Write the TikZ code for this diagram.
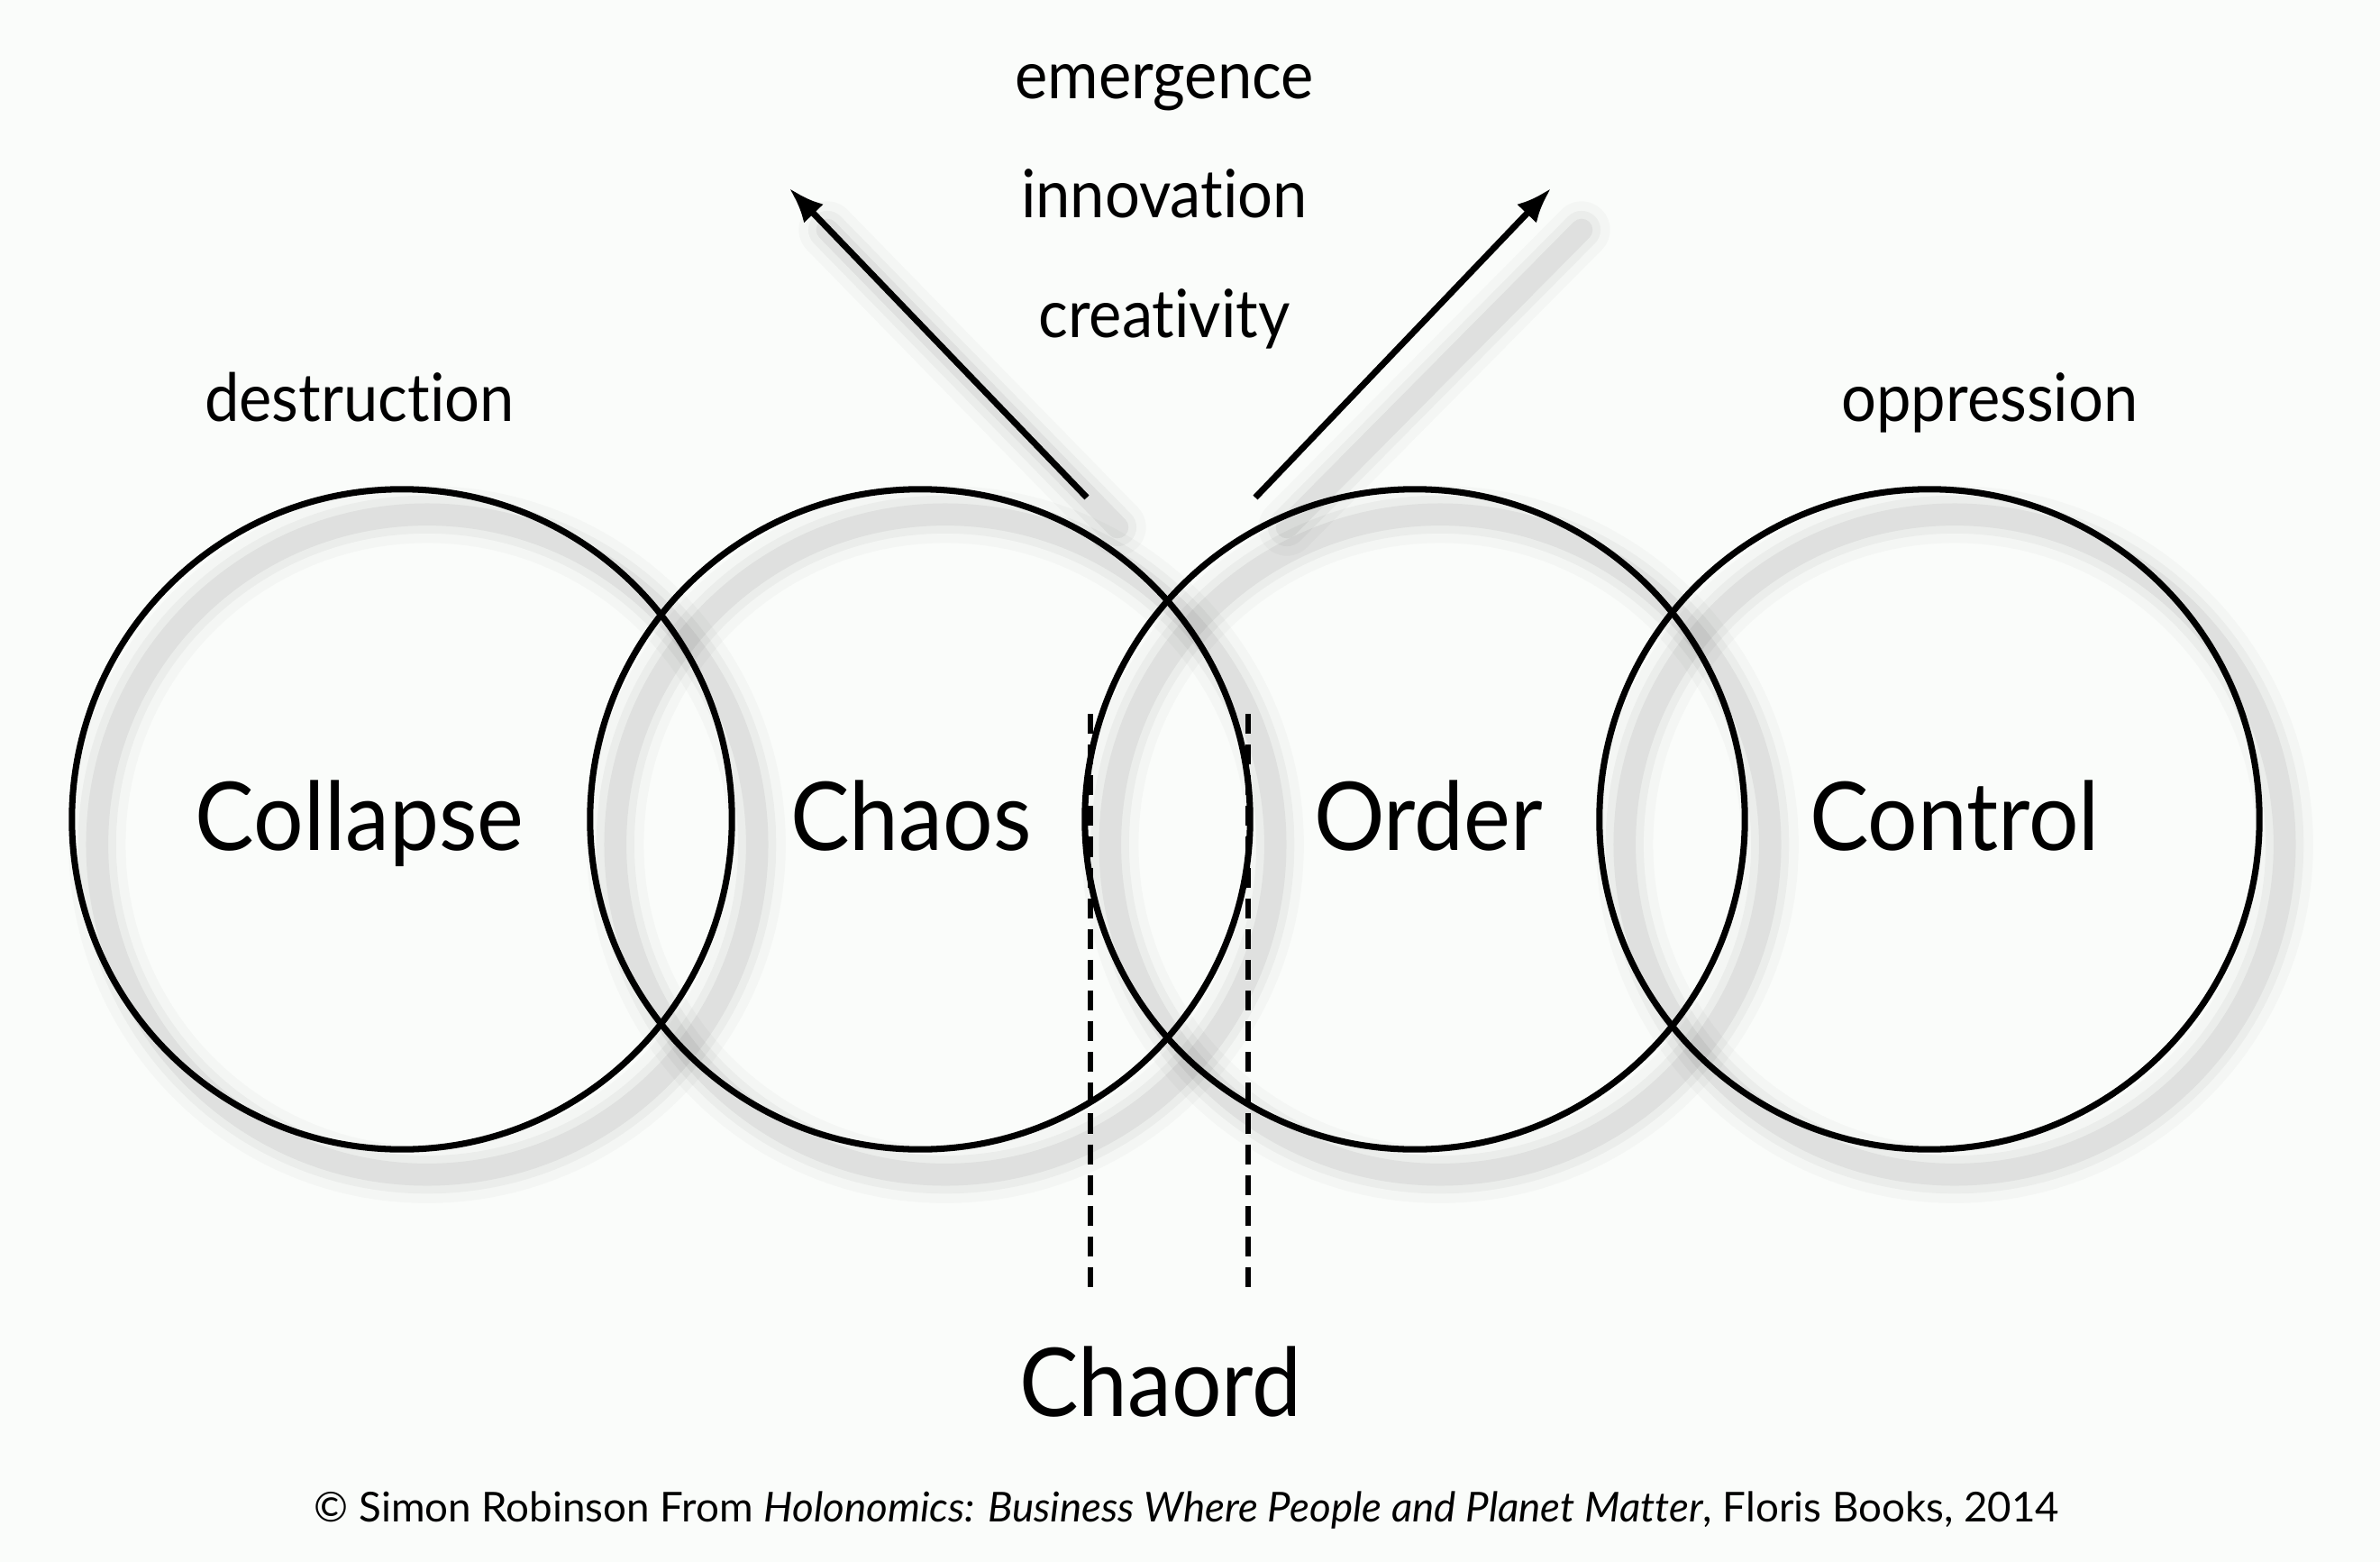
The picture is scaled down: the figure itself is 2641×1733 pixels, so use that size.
\documentclass[tikz,border=0pt]{standalone}
\usepackage{fontspec}
\setmainfont{Lato}[Ligatures=CommonOff]
\newfontfamily\narrowfont{Lato}[FakeStretch=0.93,Ligatures=CommonOff]
\usetikzlibrary{arrows.meta}
\definecolor{bg}{RGB}{250,252,250}
\begin{document}
\begin{tikzpicture}[x=0.01cm,y=-0.01cm,
  ring/.style={circle,draw=black,line width=2pt,minimum size=7.32cm,inner sep=0pt},
  big/.style={font=\narrowfont\fontsize{30}{36}\selectfont,inner sep=0pt,anchor=base},
  small/.style={font=\narrowfont\fontsize{21}{25}\selectfont,inner sep=0pt,anchor=base},
  note/.style={font=\fontsize{13}{15}\selectfont,inner sep=0pt,anchor=base},
  arr/.style={line width=2pt,-{Latex[length=11pt,width=8.5pt]}},
  chaordline/.style={line width=1.8pt,dash pattern=on 6.3pt off 3.4pt},
  shade/.style={line cap=round}]
\fill[bg] (0,0) rectangle (2641,1733);
\useasboundingbox (0,0) rectangle (2641,1733);
% soft shadows
\foreach \cx in {446,1021,1570,2141}{
  \foreach \w/\o in {18/0.025,12/0.035,7/0.05}{
    \draw[shade,line width=\w pt,black,opacity=\o] (\cx+28,937) circle[radius=3.66cm];
  }
}
\foreach \w/\o in {18/0.025,12/0.035,7/0.05}{
  \draw[shade,line width=\w pt,black,opacity=\o] (1240,585) -- (918,255);
  \draw[shade,line width=\w pt,black,opacity=\o] (1428,585) -- (1755,255);
}
% circles
\node[ring] (collapse) at (446,909) {};
\node[ring] (chaos) at (1021,909) {};
\node[ring] (order) at (1570,909) {};
\node[ring] (control) at (2141,909) {};
% labels in circles
\node[big] (lcollapse) at (399,943) {Collapse};
\node[big] (lchaos) at (1011,943) {Chaos};
\node[big] (lorder) at (1585,943) {Order};
\node[big] (lcontrol) at (2169,943) {Control};
% upper labels
\node[small] (destr) at (399,467) {destruction};
\node[small] (oppr) at (2208,467) {oppression};
\node[small] (emerg) at (1292,110) {emergence};
\node[small] (innov) at (1292,241) {innovation};
\node[small] (creat) at (1292,374) {creativity};
% arrows
\coordinate (la0) at (1206,552);
\coordinate (la1) at (876,209);
\coordinate (ra0) at (1393,552);
\coordinate (ra1) at (1721,209);
\draw[arr] (la0) -- (la1);
\draw[arr] (ra0) -- (ra1);
% chaord lines
\coordinate (d1t) at (1210,792);
\coordinate (d1b) at (1210,1434);
\coordinate (d2t) at (1385,792);
\coordinate (d2b) at (1385,1434);
\draw[chaordline] (d1t) -- (d1b);
\draw[chaordline] (d2t) -- (d2b);
\node[big] (chaord) at (1288,1571) {Chaord};
\node[note] (credit) at (1317,1688) {© Simon Robinson From \textit{Holonomics: Business Where People and Planet Matter}, Floris Books, 2014};
\end{tikzpicture}
\end{document}
